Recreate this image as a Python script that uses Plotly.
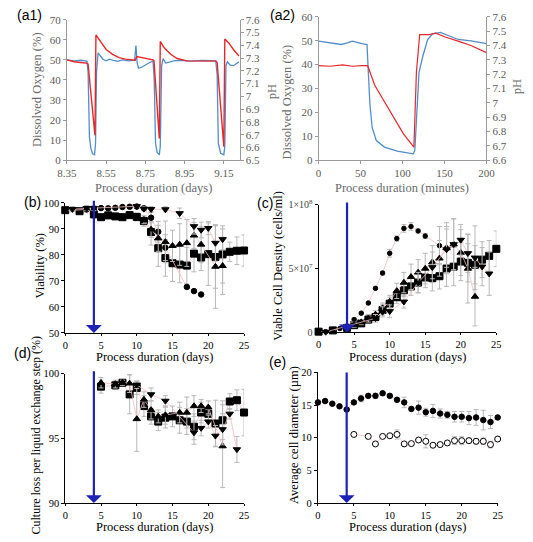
import plotly.graph_objects as go

# ---------------- (a1) DO and pH over days ----------------
a1_do_t = [8.350, 8.386, 8.419, 8.452, 8.458, 8.465, 8.472, 8.481, 8.491, 8.496, 8.501, 8.509, 8.521,
           8.534, 8.550, 8.567, 8.583, 8.608, 8.633, 8.665, 8.695, 8.702, 8.708, 8.715, 8.731, 8.748,
           8.772, 8.789, 8.795, 8.802, 8.810, 8.821, 8.826, 8.833, 8.841, 8.854, 8.871, 8.895, 8.928,
           8.977, 9.043, 9.109, 9.116, 9.122, 9.134, 9.150, 9.155, 9.161, 9.168, 9.183, 9.199, 9.216, 9.227]
a1_do = [50.0, 49.5, 49.8, 49.4, 43.9, 11.6, 6.0, 3.2, 2.7, 8.4, 43.9, 53.5, 51.9,
         50.3, 49.5, 50.3, 49.8, 49.2, 50.0, 49.5, 49.8, 57.1, 48.7, 45.8, 46.3, 47.4,
         48.7, 49.4, 40.6, 8.4, 3.9, 2.7, 6.8, 47.1, 50.6, 48.4, 49.0, 49.5, 49.8,
         49.4, 49.7, 49.5, 42.3, 8.4, 3.5, 2.7, 6.8, 47.1, 49.0, 47.4, 47.1, 48.4, 49.0]
a1_ph_t = [8.350, 8.386, 8.419, 8.452, 8.458, 8.493, 8.498, 8.509, 8.526, 8.550, 8.583, 8.616, 8.649,
           8.698, 8.706, 8.731, 8.764, 8.789, 8.794, 8.821, 8.826, 8.846, 8.879, 8.912, 8.961, 9.043,
           9.109, 9.116, 9.150, 9.155, 9.175, 9.199, 9.227]
a1_ph = [7.286, 7.271, 7.265, 7.260, 7.253, 6.695, 7.481, 7.456, 7.418, 7.367, 7.329, 7.303, 7.291,
         7.283, 7.311, 7.303, 7.296, 7.286, 7.279, 6.670, 7.430, 7.380, 7.329, 7.296, 7.278, 7.278,
         7.276, 7.265, 6.606, 7.448, 7.418, 7.367, 7.316]
a1_xticks = ['8.35', '8.55', '8.75', '8.95', '9.15']
a1_phticks = ['6.5', '6.6', '6.7', '6.8', '6.9', '7', '7.1', '7.2', '7.3', '7.4', '7.5', '7.6']

# ---------------- (a2) DO and pH over minutes ----------------
a2_do_t = [0, 13.4, 26.8, 34.4, 40.2, 51.6, 57.7, 59.3, 61.2, 63.9, 68.8, 78.4, 93.7, 112.8, 114.7,
           119.7, 124.3, 130.0, 135.8, 145.3, 154.9, 166.3, 181.6, 200]
a2_do = [49.8, 49.1, 48.4, 49.1, 49.8, 48.8, 48.4, 36.8, 23.2, 13.6, 8.2, 5.5, 3.8, 2.7, 4.1,
         36.8, 43.6, 50.5, 52.9, 53.5, 52.1, 50.5, 49.9, 48.8]
a2_ph_t = [0, 13.4, 28.7, 40.2, 51.6, 58.5, 66.9, 78.4, 89.9, 101.3, 113.6, 116.6, 120.5, 131.9,
           139.6, 151.0, 166.3, 181.6, 200]
a2_ph = [7.259, 7.255, 7.264, 7.255, 7.259, 7.259, 7.123, 7.009, 6.895, 6.782, 6.691, 7.214, 7.475,
         7.475, 7.486, 7.459, 7.430, 7.400, 7.350]
a2_phticks = ['6.6', '6.7', '6.8', '6.9', '7', '7.1', '7.2', '7.3', '7.4', '7.5', '7.6']

# ---------------- (b) Viability ----------------
b_sq_d = [0, 2, 4, 5, 6, 7, 8, 9, 10, 11, 12, 13, 14, 15, 16, 17, 18, 19, 20, 21, 22, 23, 24, 25]
b_sq = [97.2, 96.8, 95.6, 94.5, 95.2, 94.8, 94.5, 95.3, 94.6, 93.0, 88.8, 82.6, 78.8, 76.8, 76.3,
        75.9, 80.5, 79.0, 80.3, 79.2, 80.2, 81.2, 81.6, 81.7]
b_sq_e = [1, 0.5, 1.5, 1.2, 1.2, 1, 1.2, 1, 1.5, 2, 5, 7, 7, 7, 7, 7, 7, 5, 12, 12, 11, 3.7, 5.3, 6]
b_ci_d = [0, 3, 4, 5, 6, 7, 8, 9, 10, 11, 12, 13, 14, 17, 18, 19]
b_ci = [97.0, 97.5, 97.6, 98.0, 97.9, 98.1, 98.4, 98.5, 98.6, 97.9, 94.3, 88.9, 82.8, 67.7, 66.1, 64.8]
b_ci_e = [0.5, 0.5, 0.5, 0.5, 0.5, 0.5, 0.5, 0.5, 0.5, 0.8, 2, 4, 5, 0.6, 0.6, 0.5]
b_tu_d = [11, 12, 13, 14, 15, 16, 17, 18, 19, 21, 22]
b_tu = [93.5, 89.8, 86.4, 85.0, 83.5, 84.0, 84.6, 87.5, 84.0, 75.5, 75.8]
b_tu_e = [1.5, 3, 5, 8, 6, 8, 9, 5, 7, 16, 11]
b_td_d = [1, 3, 4, 10, 11, 12, 14, 16, 18, 19, 20, 21, 22]
b_td = [97.6, 98.0, 98.0, 98.7, 97.7, 97.6, 97.5, 96.0, 91.0, 89.6, 90.3, 84.6, 86.0]
b_td_e = [1, 1, 1, 0.5, 0.8, 1, 1, 2, 3, 3, 2.5, 7, 4]

# ---------------- (c) Viable cell density ----------------
c_sq_d = [0, 2, 4, 5, 6, 7, 8, 9, 10, 11, 12, 13, 14, 15, 16, 17, 18, 19, 20, 21, 22, 23, 24, 25]
c_sq = [0.05e7, 0.15e7, 0.35e7, 0.56e7, 0.7e7, 1.0e7, 1.2e7, 1.75e7, 2.25e7, 2.75e7, 3.3e7, 3.6e7,
        3.9e7, 4.3e7, 4.25e7, 4.4e7, 5.0e7, 5.15e7, 5.55e7, 5.45e7, 5.3e7, 5.7e7, 6.0e7, 6.55e7]
c_sq_e = [0, 0, 0.1e7, 0.2e7, 0.2e7, 0.3e7, 0.3e7, 0.4e7, 0.5e7, 0.5e7, 0.5e7, 0.7e7, 0.8e7,
          0.8e7, 1.0e7, 1.0e7, 1.4e7, 1.5e7, 1.5e7, 1.5e7, 1.5e7, 1.4e7, 1.2e7, 1.4e7]
c_ci_d = [0, 1, 2, 3, 4, 5, 6, 7, 8, 9, 10, 11, 12, 13, 14, 15, 17, 18]
c_ci = [0.03e7, 0.05e7, 0.15e7, 0.3e7, 0.5e7, 1.0e7, 1.5e7, 2.3e7, 3.45e7, 4.65e7, 6.2e7, 7.35e7,
        8.15e7, 8.3e7, 7.95e7, 7.55e7, 6.8e7, 6.6e7]
c_ci_e = [0, 0, 0, 0.05e7, 0.1e7, 0.1e7, 0.1e7, 0.1e7, 0.1e7, 0.15e7, 0.3e7, 0.2e7, 0.3e7, 0.3e7,
          0.15e7, 0.2e7, 1.5e7, 1.5e7]
c_tu_d = [5, 6, 7, 8, 9, 10, 11, 12, 13, 14, 15, 16, 17, 18, 19, 20, 21, 22]
c_tu = [0.6e7, 0.8e7, 1.1e7, 1.4e7, 1.9e7, 2.4e7, 3.25e7, 3.9e7, 4.35e7, 4.7e7, 5.0e7, 5.5e7,
        5.8e7, 6.6e7, 6.9e7, 6.25e7, 5.0e7, 2.8e7]
c_tu_e = [0.2e7, 0.2e7, 0.3e7, 0.3e7, 0.4e7, 0.5e7, 0.6e7, 0.8e7, 1.0e7, 1.0e7, 1.2e7, 1.3e7,
          1.4e7, 2.0e7, 2.0e7, 1.8e7, 2.7e7, 2.3e7]
c_td_d = [1, 8, 9, 10, 12, 14, 16, 18, 19, 20, 21, 22, 23, 24]
c_td = [0.03e7, 1.1e7, 1.6e7, 1.65e7, 2.4e7, 3.9e7, 5.1e7, 6.5e7, 6.9e7, 7.25e7, 6.2e7, 5.85e7,
        5.15e7, 4.6e7]
c_td_e = [0, 0.3e7, 0.4e7, 0.5e7, 0.5e7, 0.8e7, 1.2e7, 1.8e7, 2.0e7, 1.2e7, 1.5e7, 2.5e7, 1.5e7, 1.7e7]
c_yticks = [0, 5e7, 1e8]
c_yticktext = ['0', '5×10<sup>7</sup>', '1×10<sup>8</sup>']

# ---------------- (d) Culture loss ----------------
d_sq_d = [5, 7, 8, 9, 10, 11, 12, 13, 14, 15, 16, 17, 18, 19, 20, 21, 22, 23, 24, 25]
d_sq = [99.0, 99.1, 99.3, 98.4, 98.9, 97.5, 96.7, 96.3, 96.6, 96.7, 96.4, 96.3, 95.9, 97.0, 96.9,
        96.15, 96.4, 97.85, 97.95, 97.0]
d_sq_e = [0.5, 0.3, 0.2, 1.5, 0.5, 0.8, 0.6, 0.7, 0.8, 0.8, 1.0, 1.0, 1.0, 0.8, 0.6, 1.8, 1.5,
          0.6, 0.8, 1.8]
d_tu_d = [5, 7, 8, 9, 10, 11, 12, 13, 14, 16, 17, 18, 19, 20, 22]
d_tu = [99.3, 99.2, 99.3, 99.25, 96.5, 98.0, 97.2, 96.7, 96.8, 97.0, 97.0, 97.5, 97.5, 97.4, 94.4]
d_tu_e = [0.4, 0.3, 0.2, 0.7, 2.5, 0.6, 0.7, 0.5, 0.7, 0.8, 1.2, 0.8, 0.5, 0.5, 3.2]
d_td_d = [10, 12, 14, 18, 19, 20, 21, 22, 23, 24]
d_td = [99.15, 98.4, 97.9, 95.45, 95.8, 96.3, 95.2, 95.7, 96.9, 94.15]
d_td_e = [0.3, 0.5, 0.4, 0.9, 0.6, 0.5, 0.8, 1.2, 0.4, 1.0]

# ---------------- (e) Average cell diameter ----------------
e_f_d = list(range(0, 26))
e_f = [15.4, 15.6, 15.2, 14.8, 14.3, 15.4, 16.0, 16.4, 16.4, 16.8, 16.4, 15.8, 15.4, 14.4, 14.6,
       13.9, 14.1, 13.7, 13.5, 13.2, 13.2, 13.0, 13.1, 12.7, 12.4, 13.1]
e_f_e = [0.3, 0.2, 0.2, 0.2, 0.2, 0.3, 0.5, 0.3, 0.4, 0.3, 0.3, 0.3, 0.8, 0.3, 1.0, 0.6, 1.0, 0.7,
         0.5, 0.8, 0.8, 1.0, 1.2, 1.5, 1.0, 0.3]
e_o_d = [5, 7, 8, 9, 10, 11, 12, 13, 14, 15, 16, 17, 18, 19, 20, 21, 22, 23, 24, 25]
e_o = [10.5, 10.2, 9.05, 10.2, 10.3, 10.5, 9.05, 9.1, 9.65, 9.45, 8.85, 8.95, 9.2, 9.55, 9.55,
       9.55, 9.45, 9.45, 8.95, 9.8]
e_o_e = [0.2, 0.2, 0.2, 0.3, 0.3, 0.7, 0.2, 0.2, 0.3, 1.0, 0.2, 0.2, 0.3, 0.6, 0.6, 0.4, 0.4, 0.5,
         0.5, 0.3]

FEED_DAY = 4

# ---------------- styling ----------------
SERIF = "Times New Roman, Liberation Serif, DejaVu Serif, serif"
SANS = "Arial, Liberation Sans, sans-serif"
BLUE = '#4f8ec9'
RED = '#e8262a'
PINK = '#f5bcbc'
ERRC = '#b8b8b8'
ARROW = '#1b22b5'

fig = go.Figure()

# a1
fig.add_trace(go.Scatter(x=a1_do_t, y=a1_do, mode='lines', line=dict(color=BLUE, width=1.3),
                         xaxis='x', yaxis='y', showlegend=False))
fig.add_trace(go.Scatter(x=a1_ph_t, y=a1_ph, mode='lines', line=dict(color=RED, width=1.4),
                         xaxis='x', yaxis='y2', showlegend=False))
# a2
fig.add_trace(go.Scatter(x=a2_do_t, y=a2_do, mode='lines', line=dict(color=BLUE, width=1.3),
                         xaxis='x2', yaxis='y3', showlegend=False))
fig.add_trace(go.Scatter(x=a2_ph_t, y=a2_ph, mode='lines', line=dict(color=RED, width=1.2),
                         xaxis='x2', yaxis='y4', showlegend=False))


def series(xs, ys, es, sym, size, xa, ya, fill='black'):
    fig.add_trace(go.Scatter(
        x=xs, y=ys, mode='lines+markers', xaxis=xa, yaxis=ya, showlegend=False, cliponaxis=False,
        line=dict(color=PINK, width=0.8),
        marker=dict(symbol=sym, size=size, color=fill, line=dict(color='black', width=1)),
        error_y=dict(type='data', array=es, color=ERRC, thickness=1, width=2.5)))


# b
series(b_sq_d, b_sq, b_sq_e, 'square', 7, 'x3', 'y5')
series(b_ci_d, b_ci, b_ci_e, 'circle', 5.5, 'x3', 'y5')
series(b_tu_d, b_tu, b_tu_e, 'triangle-up', 6.5, 'x3', 'y5')
series(b_td_d, b_td, b_td_e, 'triangle-down', 6.5, 'x3', 'y5')
# c
series(c_sq_d, c_sq, c_sq_e, 'square', 7, 'x4', 'y6')
series(c_ci_d, c_ci, c_ci_e, 'circle', 4.5, 'x4', 'y6')
series(c_tu_d, c_tu, c_tu_e, 'triangle-up', 6.5, 'x4', 'y6')
series(c_td_d, c_td, c_td_e, 'triangle-down', 6.5, 'x4', 'y6')
# d
series(d_sq_d, d_sq, d_sq_e, 'square', 7, 'x5', 'y7')
series(d_tu_d, d_tu, d_tu_e, 'triangle-up', 6.5, 'x5', 'y7')
series(d_td_d, d_td, d_td_e, 'triangle-down', 6.5, 'x5', 'y7')
# e
series(e_f_d, e_f, e_f_e, 'circle', 5.5, 'x6', 'y8')
series(e_o_d, e_o, e_o_e, 'circle', 6, 'x6', 'y8', fill='white')


def axis(domain, rng, grey=False, **kw):
    lc = '#9a9a9a' if grey else 'black'
    tc = '#5a5a5a' if grey else 'black'
    d = dict(domain=domain, range=rng, showline=True, linecolor=lc, linewidth=1, ticks='outside',
             ticklen=3, tickcolor=lc, showgrid=False, zeroline=False, fixedrange=True,
             tickfont=dict(family=SERIF, size=11 if grey else 10.5, color=tc))
    d.update(kw)
    return d


def P(px, py):
    return px / 533.0, 1 - py / 542.0


A1X = [59 / 533, 238 / 533]
A1Y = [1 - 157 / 542, 1 - 13 / 542]
A2X = [320 / 533, 494 / 533]
A2Y = [1 - 157 / 542, 1 - 10 / 542]
BX = [57.3 / 533, 242.7 / 533]
BY = [1 - 334 / 542, 1 - 200.7 / 542]
CX = [320 / 533, 504.3 / 533]
CY = [1 - 333.3 / 542, 1 - 202.7 / 542]
DX = [57.3 / 533, 242.7 / 533]
DY = [1 - 508.3 / 542, 1 - 375.7 / 542]
EX = [319.3 / 533, 505.7 / 533]
EY = [1 - 508.3 / 542, 1 - 374.3 / 542]

fig.update_layout(
    width=533, height=542, margin=dict(l=0, r=0, t=0, b=0),
    paper_bgcolor='white', plot_bgcolor='white', showlegend=False,
    font=dict(family=SERIF),
    xaxis=axis(A1X, [8.35, 9.23], True, anchor='y', tickvals=[float(t) for t in a1_xticks],
               ticktext=a1_xticks),
    yaxis=axis(A1Y, [0, 70], True, anchor='x', dtick=10),
    yaxis2=axis(A1Y, [6.5, 7.6], True, anchor='x', overlaying='y', side='right',
                tickvals=[float(t) for t in a1_phticks], ticktext=a1_phticks),
    xaxis2=axis(A2X, [0, 200], True, anchor='y3', dtick=50),
    yaxis3=axis(A2Y, [0, 60], True, anchor='x2', dtick=10),
    yaxis4=axis(A2Y, [6.6, 7.6], True, anchor='x2', overlaying='y3', side='right',
                tickvals=[float(t) for t in a2_phticks], ticktext=a2_phticks),
    xaxis3=axis(BX, [0, 25], anchor='y5', dtick=5, ticklen=2),
    yaxis5=axis(BY, [50, 100], anchor='x3', dtick=10),
    xaxis4=axis(CX, [0, 25], anchor='y6', dtick=5, ticklen=2),
    yaxis6=axis(CY, [0, 1e8], anchor='x4', tickvals=c_yticks, ticktext=c_yticktext,
                tickfont=dict(family=SERIF, size=10, color='#444444')),
    xaxis5=axis(DX, [0, 25], anchor='y7', dtick=5, ticklen=2),
    yaxis7=axis(DY, [90, 100], anchor='x5', dtick=5),
    xaxis6=axis(EX, [0, 25], anchor='y8', dtick=5, ticklen=2),
    yaxis8=axis(EY, [0, 20], anchor='x6', dtick=5),
)

ann = []


def text(s, px, py, size=12.5, color='black', rot=0, fam=SERIF):
    x, y = P(px, py)
    ann.append(dict(text=s, x=x, y=y, xref='paper', yref='paper', showarrow=False,
                    textangle=rot, xanchor='center', yanchor='middle',
                    font=dict(family=fam, size=size, color=color)))


GREY = '#6a6a6a'
# a titles
text('Dissolved Oxygen (%)', 28, 85, 12.5, GREY, -90)
text('pH', 272, 87, 12.5, GREY, -90)
text('Process duration (days)', 149, 185, 12.5, GREY)
text('Dissolved Oxygen (%)', 287, 97, 12.5, GREY, -90)
text('pH', 526, 82, 12.5, GREY, -90)
text('Process duration (minutes)', 407, 185, 12.5, GREY)
# b-e titles
text('Viability (%)', 31, 265, 12.5, 'black', -90)
text('Process duration (days)', 150, 359, 12.5)
text('Viable Cell Density (cells/ml)', 278, 265, 12.5, 'black', -90)
text('Process duration (days)', 412, 359, 12.5)
text('Culture loss per liquid exchange step (%)', 27, 439, 12, 'black', -90)
text('Process duration (days)', 150, 533, 12.5)
text('Average cell diameter (µm)', 295, 438, 12.5, 'black', -90)
text('Process duration (days)', 412, 533, 12.5)
# panel labels
text('(a1)', 20, 8, 14, 'black', 0, SANS)
text('(a2)', 283, 8, 14, 'black', 0, SANS)
text('(b)', 23, 200, 14, 'black', 0, SANS)
text('(c)', 264, 201, 14, 'black', 0, SANS)
text('(d)', 13, 355, 14, 'black', 0, SANS)
text('(e)', 277, 364, 14, 'black', 0, SANS)

# feed arrows
for xa, ya, top, bot in [('x3', 'y5', 101.4, 50), ('x4', 'y6', 1.03e8, 0),
                         ('x5', 'y7', 100.3, 90), ('x6', 'y8', 20.2, 0)]:
    ann.append(dict(text='', x=FEED_DAY, y=bot, ax=FEED_DAY, ay=top, xref=xa, yref=ya,
                    axref=xa, ayref=ya, showarrow=True, arrowhead=1, arrowsize=1.2,
                    arrowwidth=2.2, arrowcolor=ARROW, standoff=0))

fig.update_layout(annotations=ann)
fig.write_html('out.html', config={'displayModeBar': False},
               post_script="document.body.style.margin='0px';document.body.style.overflow='hidden';")
